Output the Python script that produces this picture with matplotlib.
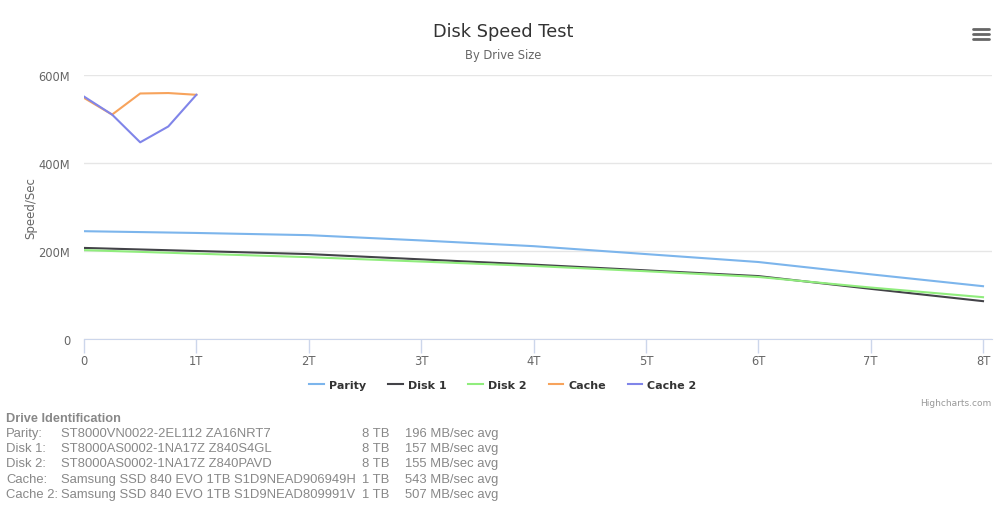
import numpy as np
import matplotlib
matplotlib.use('Agg')
import matplotlib.pyplot as plt

# drive sizes (T) and speeds (MB/sec)
hdd_pos = [0, 1, 2, 3, 4, 5, 6, 7, 8]
parity = [245, 241, 236, 224, 211, 193, 175, 147, 120]
disk1 = [207, 200, 193, 181, 169, 156, 143, 114, 86]
disk2 = [202, 194, 186, 176, 166, 154, 141, 117, 95]

ssd_pos = [0, 0.25, 0.5, 0.75, 1]
cache = [548, 510, 558, 559, 555]
cache2 = [551, 510, 447, 483, 555]

series_names = ['Parity', 'Disk 1', 'Disk 2', 'Cache', 'Cache 2']
series_colors = ['#7cb5ec', '#434348', '#90ed7d', '#f7a35c', '#8085e9']

x_ticks = [0, 1, 2, 3, 4, 5, 6, 7, 8]
x_labels = ['0', '1T', '2T', '3T', '4T', '5T', '6T', '7T', '8T']
y_ticks = [0, 200, 400, 600]
y_labels = ['0', '200M', '400M', '600M']

drive_labels = ['Parity:', 'Disk 1:', 'Disk 2:', 'Cache:', 'Cache 2:']
drive_models = ['ST8000VN0022-2EL112 ZA16NRT7',
                'ST8000AS0002-1NA17Z Z840S4GL',
                'ST8000AS0002-1NA17Z Z840PAVD',
                'Samsung SSD 840 EVO 1TB S1D9NEAD906949H',
                'Samsung SSD 840 EVO 1TB S1D9NEAD809991V']
drive_sizes = ['8 TB', '8 TB', '8 TB', '1 TB', '1 TB']
drive_avgs = ['196 MB/sec avg', '157 MB/sec avg', '155 MB/sec avg',
              '543 MB/sec avg', '507 MB/sec avg']

W, H = 1000, 506
fig = plt.figure(figsize=(W / 100, H / 100), dpi=100)
ax = fig.add_axes([84 / W, 1 - 340 / H, 908 / W, 264 / H])

xs = [hdd_pos, hdd_pos, hdd_pos, ssd_pos, ssd_pos]
ys = [parity, disk1, disk2, cache, cache2]
for x, y, name, c in zip(xs, ys, series_names, series_colors):
    ax.plot(x, y, color=c, lw=1.5, label=name, solid_joinstyle='round')

ax.set_xlim(0, 8.08)
ax.set_ylim(0, 600)
ax.set_yticks(y_ticks)
ax.set_yticklabels(y_labels)
ax.set_xticks(x_ticks)
ax.set_xticklabels(x_labels)
ax.grid(axis='y', color='#e6e6e6', lw=1)
ax.set_axisbelow(True)
for s in ['top', 'right', 'left']:
    ax.spines[s].set_visible(False)
ax.spines['bottom'].set_color('#ccd6eb')
ax.spines['bottom'].set_zorder(0)
ax.tick_params(axis='x', colors='#ccd6eb', length=10, width=1, labelcolor='#666666',
               labelsize=8.3, pad=1)
ax.tick_params(axis='y', length=0, labelcolor='#666666', labelsize=8.3, pad=10)
ax.set_ylabel('Speed/Sec', color='#666666', fontsize=8.5, labelpad=1)

fig.text(0.503, 1 - 32 / H, 'Disk Speed Test', ha='center', va='center',
         fontsize=12.8, color='#333333')
fig.text(0.503, 1 - 56 / H, 'By Drive Size', ha='center', va='center',
         fontsize=8.3, color='#666666')

leg = fig.legend(loc='center', bbox_to_anchor=(0.503, 1 - 386 / H), ncol=5,
                 frameon=False, handlelength=1.3, columnspacing=2.0,
                 handletextpad=0.45, prop={'weight': 'bold', 'size': 8})
for t in leg.get_texts():
    t.set_color('#333333')

fig.text(0.991, 1 - 404 / H, 'Highcharts.com', ha='right', va='center',
         fontsize=6.5, color='#999999')

# menu icon
for yy in [30, 35, 40]:
    fig.add_artist(plt.Line2D([973 / W, 989 / W], [1 - yy / H, 1 - yy / H],
                              color='#666666', lw=2.0, solid_capstyle='round'))

fam = 'Liberation Sans'
fig.text(6 / W, 1 - 419 / H, 'Drive Identification', ha='left', va='center',
         fontsize=9.2, color='#888888', weight='bold', family=fam)
for i in range(5):
    yy = 1 - (434 + 15.2 * i) / H
    fig.text(6 / W, yy, drive_labels[i], ha='left', va='center',
             fontsize=9.4, color='#888888', family=fam)
    fig.text(61 / W, yy, drive_models[i], ha='left', va='center',
             fontsize=9.4, color='#888888', family=fam)
    fig.text(362 / W, yy, drive_sizes[i], ha='left', va='center',
             fontsize=9.4, color='#888888', family=fam)
    fig.text(405 / W, yy, drive_avgs[i], ha='left', va='center',
             fontsize=9.4, color='#888888', family=fam)

fig.savefig('out.png', dpi=100)
